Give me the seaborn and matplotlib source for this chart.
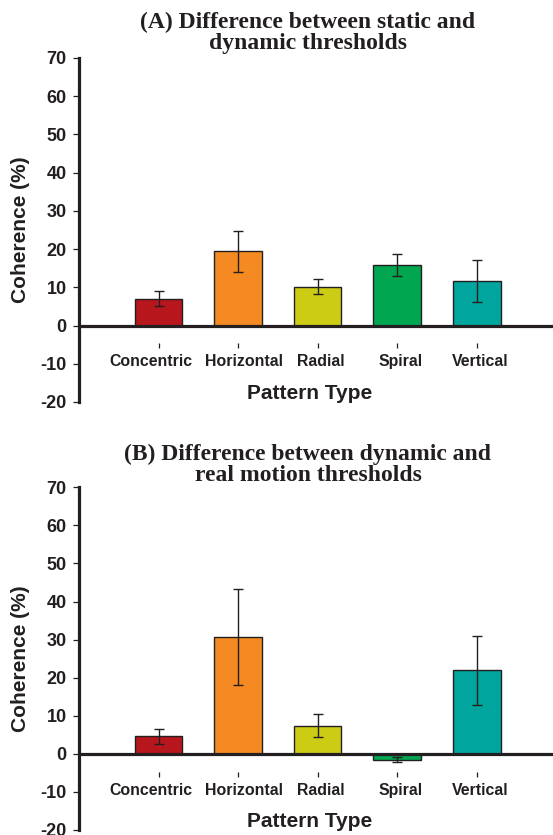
import numpy as np
import matplotlib
matplotlib.use("Agg")
import matplotlib.pyplot as plt
import matplotlib.transforms as mtransforms
import seaborn as sns


# data
patterns = ["Concentric", "Horizontal", "Radial", "Spiral", "Vertical"]
bar_colors = ["#b8161d", "#f58a22", "#cccc14", "#00a650", "#00a69d"]

static_dynamic = [7.0, 19.4, 10.2, 15.8, 11.7]
static_dynamic_err = [2.0, 5.4, 1.9, 2.9, 5.5]

dynamic_real = [4.6, 30.6, 7.4, -1.5, 21.9]
dynamic_real_err = [1.9, 12.6, 3.0, 0.6, 9.0]

titles = ["(A) Difference between static and\ndynamic thresholds",
          "(B) Difference between dynamic and\nreal motion thresholds"]
y_ticks = list(range(-20, 71, 10))

INK = "#231f20"
# labels in the original are nudged sideways off their tick marks (pixels)
label_shift = [-8, 6, 3, 3, 4]

sns.set_style("white")
plt.rcParams["font.family"] = ["Liberation Sans", "DejaVu Sans"]
plt.rcParams["font.weight"] = "bold"
plt.rcParams["axes.unicode_minus"] = False


def draw_panel(ax, values, errors, title, title_y):
    sns.barplot(x=patterns, y=values, hue=patterns, palette=bar_colors, legend=False,
                width=0.6, edgecolor=INK, linewidth=1.0, saturation=1, ax=ax, zorder=2)
    ax.errorbar(np.arange(len(patterns)), values, yerr=errors, fmt="none",
                ecolor=INK, elinewidth=1.0, capsize=3.6, capthick=1.0, zorder=4)
    ax.axhline(0, color=INK, lw=2.3, zorder=3)

    ax.set_xlim(-1, 4.96)
    ax.set_ylim(-20, 70)
    ax.set_yticks(y_ticks)

    for side in ["top", "right", "bottom"]:
        ax.spines[side].set_visible(False)
    ax.spines["left"].set_linewidth(2.3)
    ax.spines["left"].set_color(INK)
    # x ticks hang a little below the zero line
    ax.spines["bottom"].set_position(("data", -4.7))

    ax.tick_params(axis="y", direction="out", length=4.3, width=0.9, color=INK,
                   labelsize=13, pad=4.5, left=True, labelcolor=INK)
    ax.tick_params(axis="x", direction="out", length=3.8, width=0.9, color=INK,
                   labelsize=11.4, pad=4, bottom=True, labelcolor=INK)
    for lab in ax.get_xticklabels() + ax.get_yticklabels():
        lab.set_fontweight("bold")
    for lab, dx in zip(ax.get_xticklabels(), label_shift):
        lab.set_transform(lab.get_transform() +
                          mtransforms.ScaledTranslation(dx / 100, 0, ax.figure.dpi_scale_trans))

    ax.set_ylabel("Coherence (%)", fontsize=15, fontweight="bold", color=INK)
    ax.yaxis.set_label_coords(-0.124, 0.5)
    ax.yaxis.label.set_va("center")
    ax.set_xlabel("Pattern Type", fontsize=15, fontweight="bold", color=INK)
    ax.xaxis.set_label_coords(0.487, 0.026)
    ax.xaxis.label.set_va("center")

    ax.set_title(title, x=0.483, y=title_y, va="center", fontsize=17,
                 fontweight="bold", family=["Liberation Serif", "DejaVu Serif"],
                 linespacing=1.0, color=INK)


fig = plt.figure(figsize=(5.53, 8.35), dpi=100)
ax_a = fig.add_axes([0.1429, 0.5186, 0.8571, 0.4120])
ax_b = fig.add_axes([0.1429, 0.0060, 0.8571, 0.4104])

draw_panel(ax_a, static_dynamic, static_dynamic_err, titles[0], 1.048)
draw_panel(ax_b, dynamic_real, dynamic_real_err, titles[1], 1.042)

fig.savefig("out.png", dpi=100)
